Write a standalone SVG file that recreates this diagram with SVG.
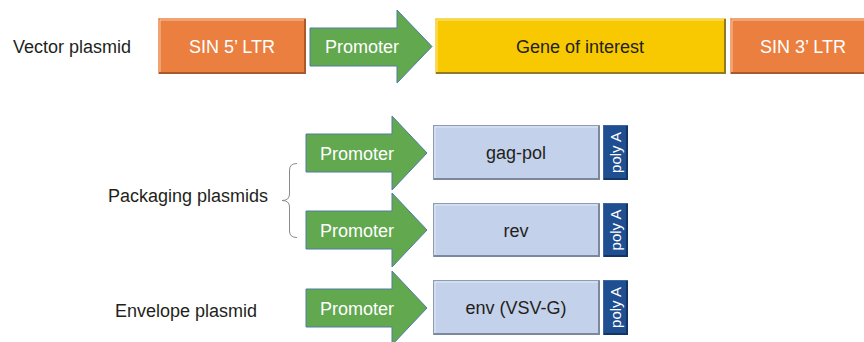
<svg xmlns="http://www.w3.org/2000/svg" width="864" height="342" viewBox="0 0 864 342">
<style>
text{font-family:"Liberation Sans",Arial,sans-serif;font-size:18px}
.lbl{fill:#231f20}
.wt{fill:#ffffff}
.dk{fill:#231f20}
.mid{text-anchor:middle}
.orange{fill:#EA7F3F;stroke:#F2A574;stroke-width:1}
.yellow{fill:#F8C900;stroke:#F7D96A;stroke-width:1}
.arrow{fill:#62A84F;stroke:#4E7CA3;stroke-width:1}
.gene{fill:#C3D1EA;stroke:#8D9BB4;stroke-width:1}
.polya{fill:#1F4E91;stroke:#3A66A8;stroke-width:1}
.shO{fill:none;stroke:#A9592B;stroke-width:2}
.shY{fill:none;stroke:#8F7A2A;stroke-width:2}
.shB{fill:none;stroke:#7C889E;stroke-width:2}
.shP{fill:none;stroke:#123566;stroke-width:2}
.hl{fill:none;stroke:#ffffff;stroke-opacity:0.55;stroke-width:1}
.pa{font-size:15px;fill:#ffffff;text-anchor:middle}
.brace{fill:none;stroke:#8a8a8a;stroke-width:1}
</style>

<g id="label-vector"><text class="lbl" x="13" y="53">Vector plasmid</text></g>
<g id="label-packaging"><text class="lbl" x="108" y="201.5">Packaging plasmids</text></g>
<g id="label-envelope"><text class="lbl" x="115" y="316.5">Envelope plasmid</text></g>

<g id="sin5">
<rect class="orange" x="158.5" y="18.5" width="147" height="55"/>
<polyline class="shO" points="159,73 305,73 305,19"/>
<polyline class="hl" points="160,72 160,20 304,20"/>
<text class="wt mid" x="232" y="53">SIN 5’ LTR</text>
</g>
<g id="promoter-top">
<path class="arrow" d="M310,28 L397,28 L397,10 L432,46.5 L397,83 L397,66 L310,66 Z"/>
<text class="wt" x="325" y="53">Promoter</text>
</g>
<g id="gene-of-interest">
<rect class="yellow" x="435.5" y="18.5" width="290" height="55"/>
<polyline class="shY" points="436,73 725,73 725,19"/>
<polyline class="hl" points="437,72 437,20 724,20"/>
<text class="dk mid" x="580" y="53">Gene of interest</text>
</g>
<g id="sin3">
<rect class="orange" x="730.5" y="18.5" width="140" height="55"/>
<polyline class="shO" points="731,73 870,73"/>
<polyline class="hl" points="732,72 732,20 870,20"/>
<text class="wt mid" x="803" y="53">SIN 3’ LTR</text>
</g>

<g id="connectors">
<path class="brace" d="M297,163.5 Q289.5,163.5 289.5,170 L289.5,194 Q289.5,200.5 282,200.5 Q289.5,200.5 289.5,207 L289.5,231 Q289.5,237.5 297,237.5"/>
</g>

<g id="promoter-gagpol">
<path class="arrow" d="M306,134 L392,134 L392,116 L427,153 L392,190 L392,172 L306,172 Z"/>
<text class="wt" x="320" y="159.5">Promoter</text>
</g>
<g id="gagpol">
<rect class="gene" x="433.5" y="125.5" width="166" height="54"/>
<polyline class="shB" points="434,179 599,179 599,126"/>
<polyline class="hl" points="435,178 435,127 598,127"/>
<text class="dk mid" x="516" y="158.5">gag-pol</text>
</g>
<g id="polya-1">
<rect class="polya" x="603.5" y="125.5" width="24" height="54"/>
<polyline class="shP" points="604,179 627,179 627,126"/>
<text class="pa" transform="translate(621,152.5) rotate(-90)">poly A</text>
</g>

<g id="promoter-rev">
<path class="arrow" d="M306,211 L392,211 L392,193 L427,230 L392,267 L392,249 L306,249 Z"/>
<text class="wt" x="320" y="236.5">Promoter</text>
</g>
<g id="rev">
<rect class="gene" x="433.5" y="203.5" width="166" height="53"/>
<polyline class="shB" points="434,256 599,256 599,204"/>
<polyline class="hl" points="435,255 435,205 598,205"/>
<text class="dk mid" x="516" y="236.5">rev</text>
</g>
<g id="polya-2">
<rect class="polya" x="603.5" y="203.5" width="24" height="53"/>
<polyline class="shP" points="604,256 627,256 627,204"/>
<text class="pa" transform="translate(621,230) rotate(-90)">poly A</text>
</g>

<g id="promoter-env">
<path class="arrow" d="M306,289 L392,289 L392,271 L427,308 L392,345 L392,327 L306,327 Z"/>
<text class="wt" x="320" y="314.5">Promoter</text>
</g>
<g id="env">
<rect class="gene" x="433.5" y="280.5" width="166" height="54"/>
<polyline class="shB" points="434,334 599,334 599,281"/>
<polyline class="hl" points="435,333 435,282 598,282"/>
<text class="dk mid" x="516" y="314">env (VSV-G)</text>
</g>
<g id="polya-3">
<rect class="polya" x="603.5" y="280.5" width="24" height="54"/>
<polyline class="shP" points="604,334 627,334 627,281"/>
<text class="pa" transform="translate(621,307.5) rotate(-90)">poly A</text>
</g>
</svg>
